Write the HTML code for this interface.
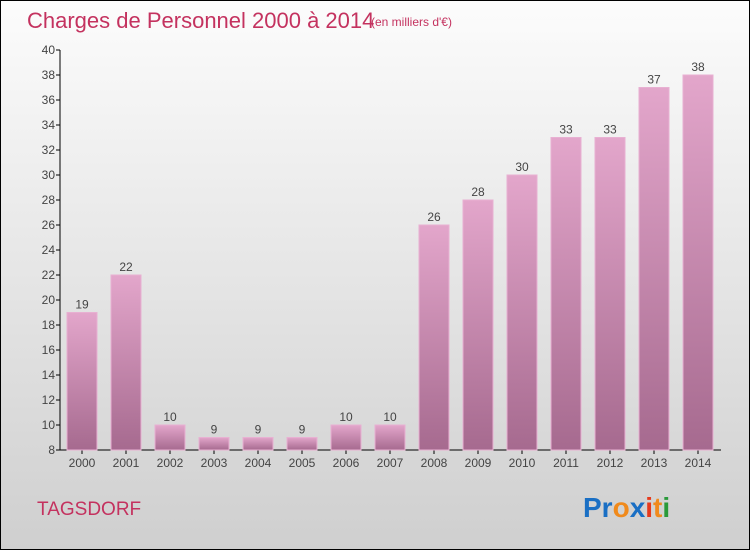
<!DOCTYPE html>
<html><head><meta charset="utf-8"><style>
body{margin:0;width:750px;height:550px;overflow:hidden;font-family:"Liberation Sans",sans-serif}
#wrap{position:absolute;left:0;top:0;width:748px;height:548px;border:1px solid #000;background:linear-gradient(#fcfcfc,#cfcfcf)}
</style></head><body>
<div id="wrap">
<svg width="748" height="548" id="svg">
<defs><linearGradient id="bg" x1="0" y1="0" x2="0" y2="1"><stop offset="0" stop-color="#e3a6cb"/><stop offset="1" stop-color="#a66a8f"/></linearGradient></defs>
<text x="26" y="27" font-size="22" fill="#c4325f">Charges de Personnel 2000 à 2014</text>
<text x="370" y="25" font-size="12" fill="#c4325f">(en milliers d'€)</text>
<text x="36" y="514" font-size="19" fill="#c4325f">TAGSDORF</text>
<g font-size="28" font-weight="bold">
<text x="582" y="516"><tspan fill="#1a6fc4">Pr</tspan><tspan fill="#f08a1c">o</tspan><tspan fill="#1a6fc4">x</tspan><tspan fill="#e63a1c">i</tspan><tspan fill="#f08a1c">t</tspan><tspan fill="#2a9a3a">i</tspan></text>
</g>
<g id="axes"></g><g id="bars"></g>
</svg></div>
<script>
const years=["2000","2001","2002","2003","2004","2005","2006","2007","2008","2009","2010","2011","2012","2013","2014"];
const values=[19,22,10,9,9,9,10,10,26,28,30,33,33,37,38];
const ticks=[8,10,12,14,16,18,20,22,24,26,28,30,32,34,36,38,40];
const NS="http://www.w3.org/2000/svg";
const y=v=>449-(v-8)*12.5, x=i=>81+i*44;
const ax=document.getElementById('axes'), bg=document.getElementById('bars');
function mk(t,a,p){const e=document.createElementNS(NS,t);for(const k in a)e.setAttribute(k,a[k]);p.appendChild(e);return e;}
let l=mk('line',{x1:59,y1:49,x2:59,y2:449,stroke:'#000'},ax);


l=mk('line',{x1:59,y1:449,x2:720,y2:449,stroke:'#000'},ax);


ticks.forEach(t=>{mk('line',{x1:55,x2:59,y1:y(t),y2:y(t),stroke:'#000'},ax);
const e=mk('text',{x:54,y:y(t)+4,'font-size':12,fill:'#444','text-anchor':'end'},ax);e.textContent=t;

});
values.forEach((v,i)=>{
const r=mk('rect',{x:x(i)-15,y:y(v),width:30,height:449-y(v),fill:'url(#bg)',stroke:'#e8b0d2','stroke-width':1},bg);


const t=mk('text',{x:x(i),y:y(v)-4,'font-size':12,fill:'#444','text-anchor':'middle'},bg);t.textContent=v;


mk('line',{x1:x(i),x2:x(i),y1:449,y2:453,stroke:'#000'},ax);
const k=mk('text',{x:x(i),y:466,'font-size':12,fill:'#444','text-anchor':'middle'},ax);k.textContent=years[i];


});
</script>
</body></html>
